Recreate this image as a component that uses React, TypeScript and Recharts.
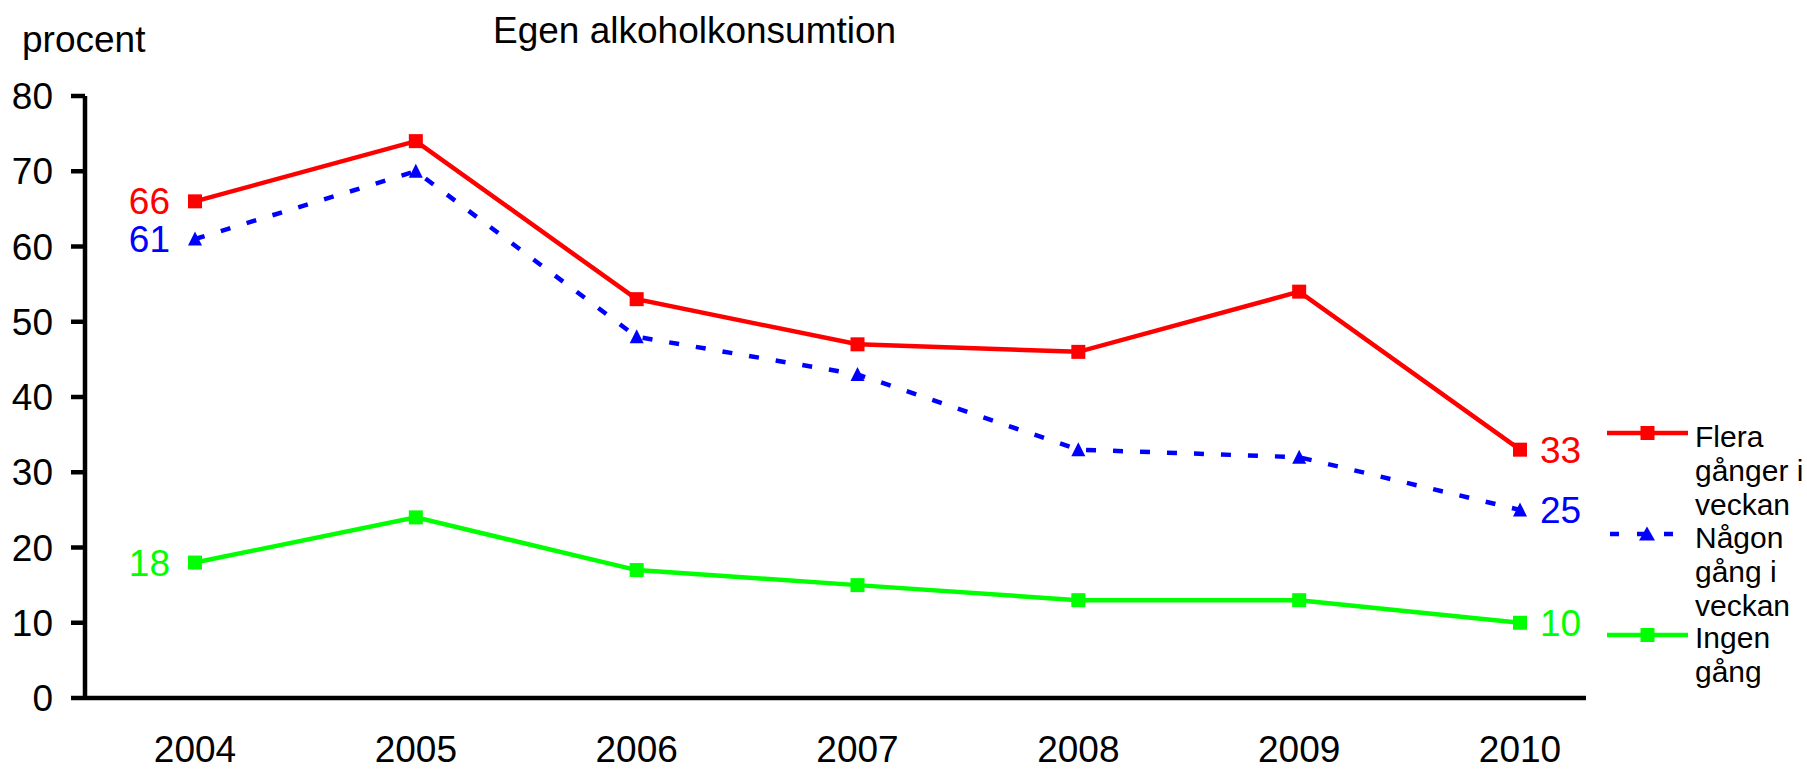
import React from 'react';
import { LineChart, Line, XAxis, YAxis, Legend, LabelList, Customized } from 'recharts';

const years = ['2004', '2005', '2006', '2007', '2008', '2009', '2010'];
const flera = [66, 74, 53, 47, 46, 54, 33];
const nagon = [61, 70, 48, 43, 33, 32, 25];
const ingen = [18, 24, 17, 15, 13, 13, 10];
const yTicks = [0, 10, 20, 30, 40, 50, 60, 70, 80];
const seriesNames = ['Flera gånger i veckan', 'Någon gång i veckan', 'Ingen gång'];
const legendLines = [
  ['Flera', 'gånger i', 'veckan'],
  ['Någon', 'gång i', 'veckan'],
  ['Ingen', 'gång'],
];
const title = 'Egen alkoholkonsumtion';
const yUnit = 'procent';

const RED = '#FF0000';
const BLUE = '#0000FF';
const GREEN = '#00FF00';
const FONT = '"Liberation Sans", Arial, Helvetica, sans-serif';

const data = years.map((y, i) => ({ year: y, flera: flera[i], nagon: nagon[i], ingen: ingen[i] }));

const squareDot = (color: string) => (props: any) => {
  const { cx, cy, index } = props;
  if (cx == null || cy == null) return <g key={`s-${index}`} />;
  return <rect key={`s-${color}-${index}`} x={cx - 7} y={cy - 7} width={14} height={14} fill={color} />;
};

const triangleDot = (color: string) => (props: any) => {
  const { cx, cy, index } = props;
  if (cx == null || cy == null) return <g key={`t-${index}`} />;
  return (
    <polygon
      key={`t-${color}-${index}`}
      points={`${cx},${cy - 7.5} ${cx - 7},${cy + 6.5} ${cx + 7},${cy + 6.5}`}
      fill={color}
    />
  );
};

const endLabel = (color: string) => (props: any) => {
  const { x, y, value, index } = props;
  if (index !== 0 && index !== years.length - 1) return null;
  const first = index === 0;
  return (
    <text
      x={first ? x - 25 : x + 20}
      y={y}
      dy="0.355em"
      textAnchor={first ? 'end' : 'start'}
      fill={color}
      fontSize={37}
      fontFamily={FONT}
    >
      {value}
    </text>
  );
};

const LegendContent = () => {
  const rows = [
    { color: RED, marker: 'square', dash: undefined as string | undefined, x1: 7, x2: 88 },
    { color: BLUE, marker: 'triangle', dash: '9 18', x1: 10, x2: 73 },
    { color: GREEN, marker: 'square', dash: undefined as string | undefined, x1: 7, x2: 88 },
  ];
  return (
    <svg width={207} height={300} style={{ overflow: 'visible' }}>
      {rows.map((r, i) => {
        const ly = 33 + i * 101;
        const base = 47 + i * 100.5;
        return (
          <g key={seriesNames[i]}>
            <line x1={r.x1} x2={r.x2} y1={ly} y2={ly} stroke={r.color} strokeWidth={4.5} strokeDasharray={r.dash} />
            {r.marker === 'square' ? (
              <rect x={40.5} y={ly - 7} width={14} height={14} fill={r.color} />
            ) : (
              <polygon points={`${47},${ly - 7.5} ${39},${ly + 6.5} ${55},${ly + 6.5}`} fill={r.color} />
            )}
            <text x={95} y={base} fontSize={30} fontFamily={FONT} fill="#000">
              {legendLines[i].map((t, j) => (
                <tspan key={j} x={95} y={base + j * 34}>
                  {t}
                </tspan>
              ))}
            </text>
          </g>
        );
      })}
    </svg>
  );
};

const Titles = () => (
  <g>
    <text x={493} y={43} fontSize={37} fontFamily={FONT} fill="#000">
      {title}
    </text>
    <text x={22} y={52} fontSize={37} fontFamily={FONT} fill="#000">
      {yUnit}
    </text>
  </g>
);

export default function App() {
  return (
    <div style={{ position: 'absolute', left: 0, top: 0, width: 1807, height: 771, background: '#fff', fontFamily: FONT }}>
      <LineChart
        width={1807}
        height={771}
        data={data}
        margin={{ top: 96, right: 221, bottom: 0, left: 0 }}
      >
        <XAxis
          dataKey="year"
          padding={{ left: 110, right: 66 }}
          tickLine={false}
          tickSize={0}
          tickMargin={38}
          axisLine={{ stroke: '#000', strokeWidth: 4.5 }}
          tick={{ fontSize: 37, fill: '#000', fontFamily: FONT }}
          interval={0}
          height={73}
        />
        <YAxis
          width={85}
          domain={[0, 80]}
          ticks={yTicks}
          interval={0}
          tickSize={14}
          tickMargin={18}
          tickLine={{ stroke: '#000', strokeWidth: 4.5 }}
          axisLine={{ stroke: '#000', strokeWidth: 4.5 }}
          tick={{ fontSize: 37, fill: '#000', fontFamily: FONT }}
        />
        <Line
          dataKey="flera"
          name={seriesNames[0]}
          stroke={RED}
          strokeWidth={4.5}
          dot={squareDot(RED)}
          activeDot={false}
          isAnimationActive={false}
        >
          <LabelList dataKey="flera" content={endLabel(RED)} />
        </Line>
        <Line
          dataKey="nagon"
          name={seriesNames[1]}
          stroke={BLUE}
          strokeWidth={4.5}
          strokeDasharray="10 17"
          dot={triangleDot(BLUE)}
          activeDot={false}
          isAnimationActive={false}
        >
          <LabelList dataKey="nagon" content={endLabel(BLUE)} />
        </Line>
        <Line
          dataKey="ingen"
          name={seriesNames[2]}
          stroke={GREEN}
          strokeWidth={4.5}
          dot={squareDot(GREEN)}
          activeDot={false}
          isAnimationActive={false}
        >
          <LabelList dataKey="ingen" content={endLabel(GREEN)} />
        </Line>
        <Legend
          layout="vertical"
          align="center"
          verticalAlign="middle"
          content={<LegendContent />}
          wrapperStyle={{ left: 1600, top: 400, width: 207, height: 300 }}
        />
        <Customized component={<Titles />} />
      </LineChart>
    </div>
  );
}
